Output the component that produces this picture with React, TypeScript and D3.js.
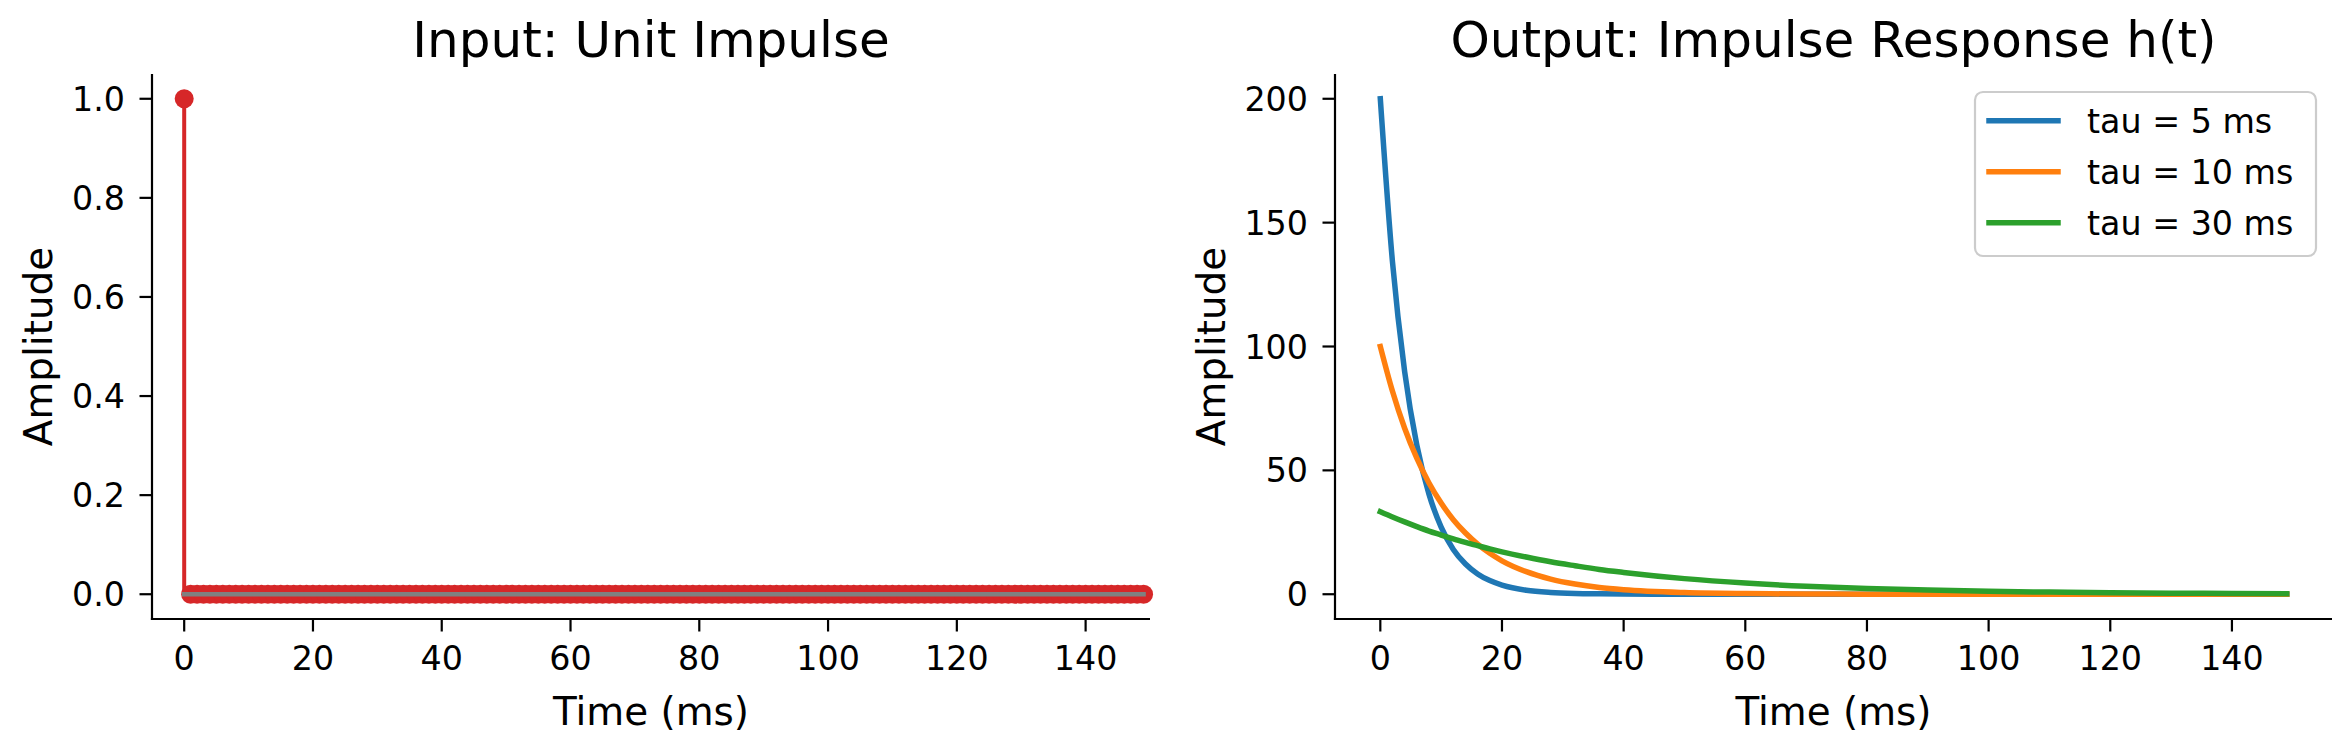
import React from 'react';
import * as d3 from 'd3';

// ---------- data ----------
const IMPULSE_T = Array.from({ length: 150 }, (_, i) => i);
const IMPULSE_AMP = [1, ...new Array(149).fill(0)];

const T_MS = [0, 2, 4, 6, 8, 10, 12, 14, 16, 18, 20, 24, 28, 32, 36, 40, 50, 60, 70, 80, 90, 100, 110, 120, 130, 140, 149];
const H_TAU5 = [200, 134.1, 89.9, 60.2, 40.4, 27.1, 18.1, 12.2, 8.2, 5.5, 3.7, 1.6, 0.7, 0.3, 0.15, 0.07, 0.01, 0, 0, 0, 0, 0, 0, 0, 0, 0, 0];
const H_TAU10 = [100, 81.9, 67.0, 54.9, 44.9, 36.8, 30.1, 24.7, 20.2, 16.5, 13.5, 9.1, 6.1, 4.1, 2.7, 1.8, 0.67, 0.25, 0.09, 0.03, 0.01, 0, 0, 0, 0, 0, 0];
const H_TAU30 = [33.3, 31.2, 29.2, 27.3, 25.5, 23.9, 22.3, 20.9, 19.6, 18.3, 17.1, 15.0, 13.1, 11.5, 10.0, 8.8, 6.3, 4.5, 3.2, 2.3, 1.7, 1.2, 0.85, 0.61, 0.44, 0.31, 0.23];

const SERIES_LABELS = ['tau = 5 ms', 'tau = 10 ms', 'tau = 30 ms'];
const SERIES_COLORS = ['#1f77b4', '#ff7f0e', '#2ca02c'];

const X_TICKS = [0, 20, 40, 60, 80, 100, 120, 140];
const Y_TICKS_LEFT = [0, 0.2, 0.4, 0.6, 0.8, 1.0];
const Y_TICKS_RIGHT = [0, 50, 100, 150, 200];

// ---------- layout ----------
const W = 2351;
const H = 750;
const FONT = '"DejaVu Sans", sans-serif';
const TICK_FS = 33.3;
const LABEL_FS = 38.9;
const TITLE_FS = 50;
const TICK_LEN = 12.5;
const SPINE_W = 2.2;
const AX_TOP = 74;
const AX_BOTTOM = 619;

type AxesProps = {
  x: d3.ScaleLinear<number, number>;
  y: d3.ScaleLinear<number, number>;
  xTicks: number[];
  yTicks: number[];
  yFmt: (v: number) => string;
  title: string;
  ylabelX: number;
  children?: React.ReactNode;
};

function Axes({ x, y, xTicks, yTicks, yFmt, title, ylabelX, children }: AxesProps) {
  const [x0, x1] = x.range();
  const [yb, yt] = y.range();
  const cx = (x0 + x1) / 2;
  const cy = (yb + yt) / 2;
  return (
    <g>
      {children}
      {/* spines */}
      <line x1={x0} x2={x0} y1={yt} y2={yb + SPINE_W / 2} stroke="#000" strokeWidth={SPINE_W} />
      <line x1={x0 - SPINE_W / 2} x2={x1} y1={yb} y2={yb} stroke="#000" strokeWidth={SPINE_W} />
      {/* x ticks */}
      {xTicks.map((t) => (
        <g key={`xt${t}`}>
          <line x1={x(t)} x2={x(t)} y1={yb} y2={yb + TICK_LEN} stroke="#000" strokeWidth={SPINE_W} />
          <text x={x(t)} y={yb + 51} fontSize={TICK_FS} textAnchor="middle" fontFamily={FONT}>
            {t}
          </text>
        </g>
      ))}
      {/* y ticks */}
      {yTicks.map((t) => (
        <g key={`yt${t}`}>
          <line x1={x0 - TICK_LEN} x2={x0} y1={y(t)} y2={y(t)} stroke="#000" strokeWidth={SPINE_W} />
          <text x={x0 - 27} y={y(t) + 12} fontSize={TICK_FS} textAnchor="end" fontFamily={FONT}>
            {yFmt(t)}
          </text>
        </g>
      ))}
      {/* labels */}
      <text x={cx} y={725} fontSize={LABEL_FS} textAnchor="middle" fontFamily={FONT}>
        Time (ms)
      </text>
      <text
        transform={`translate(${ylabelX},${cy}) rotate(-90)`}
        fontSize={LABEL_FS}
        textAnchor="middle"
        fontFamily={FONT}
      >
        Amplitude
      </text>
      <text x={cx} y={57} fontSize={TITLE_FS} textAnchor="middle" fontFamily={FONT}>
        {title}
      </text>
    </g>
  );
}

export default function App() {
  // left panel: unit impulse stem plot
  const xL = d3.scaleLinear().domain([-5, 150]).range([152, 1150]);
  const yL = d3.scaleLinear().domain([-0.05, 1.05]).range([AX_BOTTOM, AX_TOP]);

  // right panel: impulse responses
  const xR = d3.scaleLinear().domain([-7.45, 156.45]).range([1335, 2332]);
  const yR = d3.scaleLinear().domain([-10, 210]).range([AX_BOTTOM, AX_TOP]);

  const line = d3
    .line<[number, number]>()
    .x((d) => xR(d[0]))
    .y((d) => yR(d[1]))
    .curve(d3.curveMonotoneX);

  const series = [H_TAU5, H_TAU10, H_TAU30].map((vals) =>
    T_MS.map((t, i) => [t, vals[i]] as [number, number])
  );

  const red = '#d62728';
  const baseX0 = d3.min(IMPULSE_T)!;
  const baseX1 = d3.max(IMPULSE_T)!;

  // legend geometry
  const lgX = 1975;
  const lgY = 92;
  const lgW = 341;
  const lgH = 164;
  const rowGap = 51;

  return (
    <svg
      width={W}
      height={H}
      viewBox={`0 0 ${W} ${H}`}
      style={{ position: 'absolute', left: 0, top: 0, background: '#fff' }}
    >
      <rect x={0} y={0} width={W} height={H} fill="#fff" />

      <Axes
        x={xL}
        y={yL}
        xTicks={X_TICKS}
        yTicks={Y_TICKS_LEFT}
        yFmt={d3.format('.1f')}
        title="Input: Unit Impulse"
        ylabelX={52}
      >
        {/* stems */}
        {IMPULSE_T.map((t, i) =>
          IMPULSE_AMP[i] !== 0 ? (
            <line
              key={`s${t}`}
              x1={xL(t)}
              x2={xL(t)}
              y1={yL(0)}
              y2={yL(IMPULSE_AMP[i])}
              stroke={red}
              strokeWidth={4}
            />
          ) : null
        )}
        {/* markers */}
        {IMPULSE_T.map((t, i) => (
          <circle key={`m${t}`} cx={xL(t)} cy={yL(IMPULSE_AMP[i])} r={9.5} fill={red} />
        ))}
        {/* baseline */}
        <line
          x1={xL(baseX0)}
          x2={xL(baseX1)}
          y1={yL(0)}
          y2={yL(0)}
          stroke="#808080"
          strokeWidth={4.5}
          strokeLinecap="square"
        />
      </Axes>

      <Axes
        x={xR}
        y={yR}
        xTicks={X_TICKS}
        yTicks={Y_TICKS_RIGHT}
        yFmt={d3.format('d')}
        title="Output: Impulse Response h(t)"
        ylabelX={1225}
      >
        {series.map((pts, k) => (
          <path
            key={`c${k}`}
            d={line(pts) ?? ''}
            fill="none"
            stroke={SERIES_COLORS[k]}
            strokeWidth={5.5}
            strokeLinecap="square"
            strokeLinejoin="round"
          />
        ))}
      </Axes>

      {/* legend */}
      <g>
        <rect
          x={lgX}
          y={lgY}
          width={lgW}
          height={lgH}
          rx={8}
          ry={8}
          fill="#fff"
          fillOpacity={0.8}
          stroke="#cccccc"
          strokeWidth={2.2}
        />
        {SERIES_LABELS.map((lab, k) => {
          const yy = 120.7 + k * rowGap;
          return (
            <g key={`lg${k}`}>
              <line
                x1={1989}
                x2={2058}
                y1={yy}
                y2={yy}
                stroke={SERIES_COLORS[k]}
                strokeWidth={5.5}
                strokeLinecap="square"
              />
              <text x={2087} y={yy + 12.6} fontSize={TICK_FS} fontFamily={FONT}>
                {lab}
              </text>
            </g>
          );
        })}
      </g>
    </svg>
  );
}
